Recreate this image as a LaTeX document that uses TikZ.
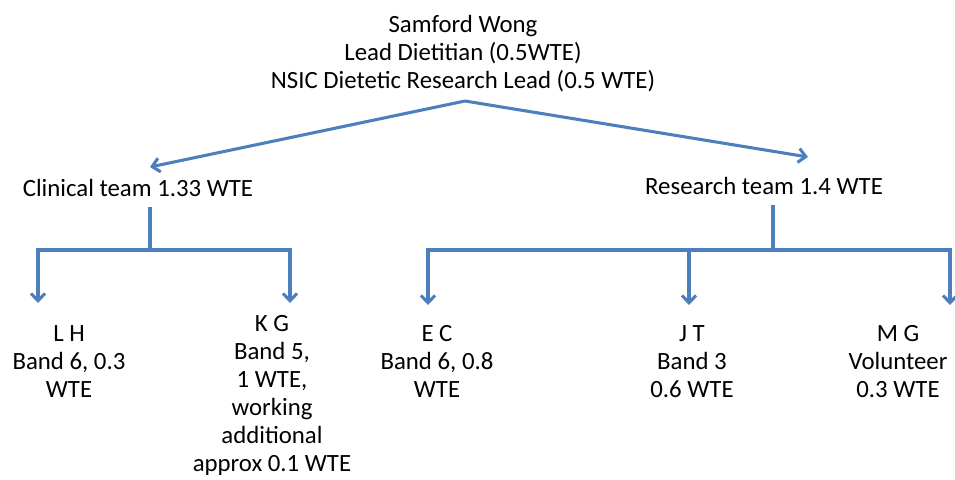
\documentclass[tikz,border=0pt]{standalone}
\usepackage{fontspec}
\setmainfont{Carlito}
\usetikzlibrary{arrows.meta}
\definecolor{orgblue}{RGB}{76,127,188}

\begin{document}
\begin{tikzpicture}[x=0.75pt,y=-0.75pt,
    every node/.style={align=center, inner sep=0pt, font=\fontsize{18.6}{21}\selectfont},
    strich/.style={orgblue, line width=2.3pt},
    pfeil/.style={strich, -{Straight Barb[length=5.5pt,width=10.5pt,line width=2.3pt]}}]

    \useasboundingbox (0,0) rectangle (955,479);

    \node (lead) at (463,54) {Samford Wong\\Lead Dietitian (0.5WTE)\\NSIC Dietetic Research Lead (0.5 WTE)};
    \node (clin) at (138,188) {Clinical team 1.33 WTE};
    \node (res) at (764,186) {Research team 1.4 WTE};

    \node[anchor=north] (lh) at (69,325) {L H\\Band 6, 0.3\\WTE};
    \node[anchor=north] (kg) at (272,315) {K G\\Band 5,\\1 WTE,\\working\\additional\\approx 0.1 WTE};
    \node[anchor=north] (ec) at (437,325) {E C\\Band 6, 0.8\\WTE};
    \node[anchor=north] (jt) at (692,325) {J T\\Band 3\\0.6 WTE};
    \node[anchor=north] (mg) at (898,325) {M G\\Volunteer\\0.3 WTE};

    \coordinate (apex) at (465,101);
    \coordinate (clintip) at (150,167);
    \coordinate (restip) at (808,157);
    \draw[pfeil] (apex) -- (clintip);
    \draw[pfeil] (apex) -- (restip);

    % clinical team
    \coordinate (cbar) at (150,250);
    \draw[strich] (150,207) -- (cbar);
    \draw[pfeil] (cbar) -| (38,303);
    \draw[pfeil] (cbar) -| (290,303);

    % research team
    \coordinate (rbar) at (773,250);
    \draw[strich] (773,205) -- (rbar);
    \draw[pfeil] (rbar) -| (428,305);
    \draw[pfeil] (rbar) -| (689,305);
    \draw[pfeil] (rbar) -| (950,305);

\end{tikzpicture}
\end{document}
